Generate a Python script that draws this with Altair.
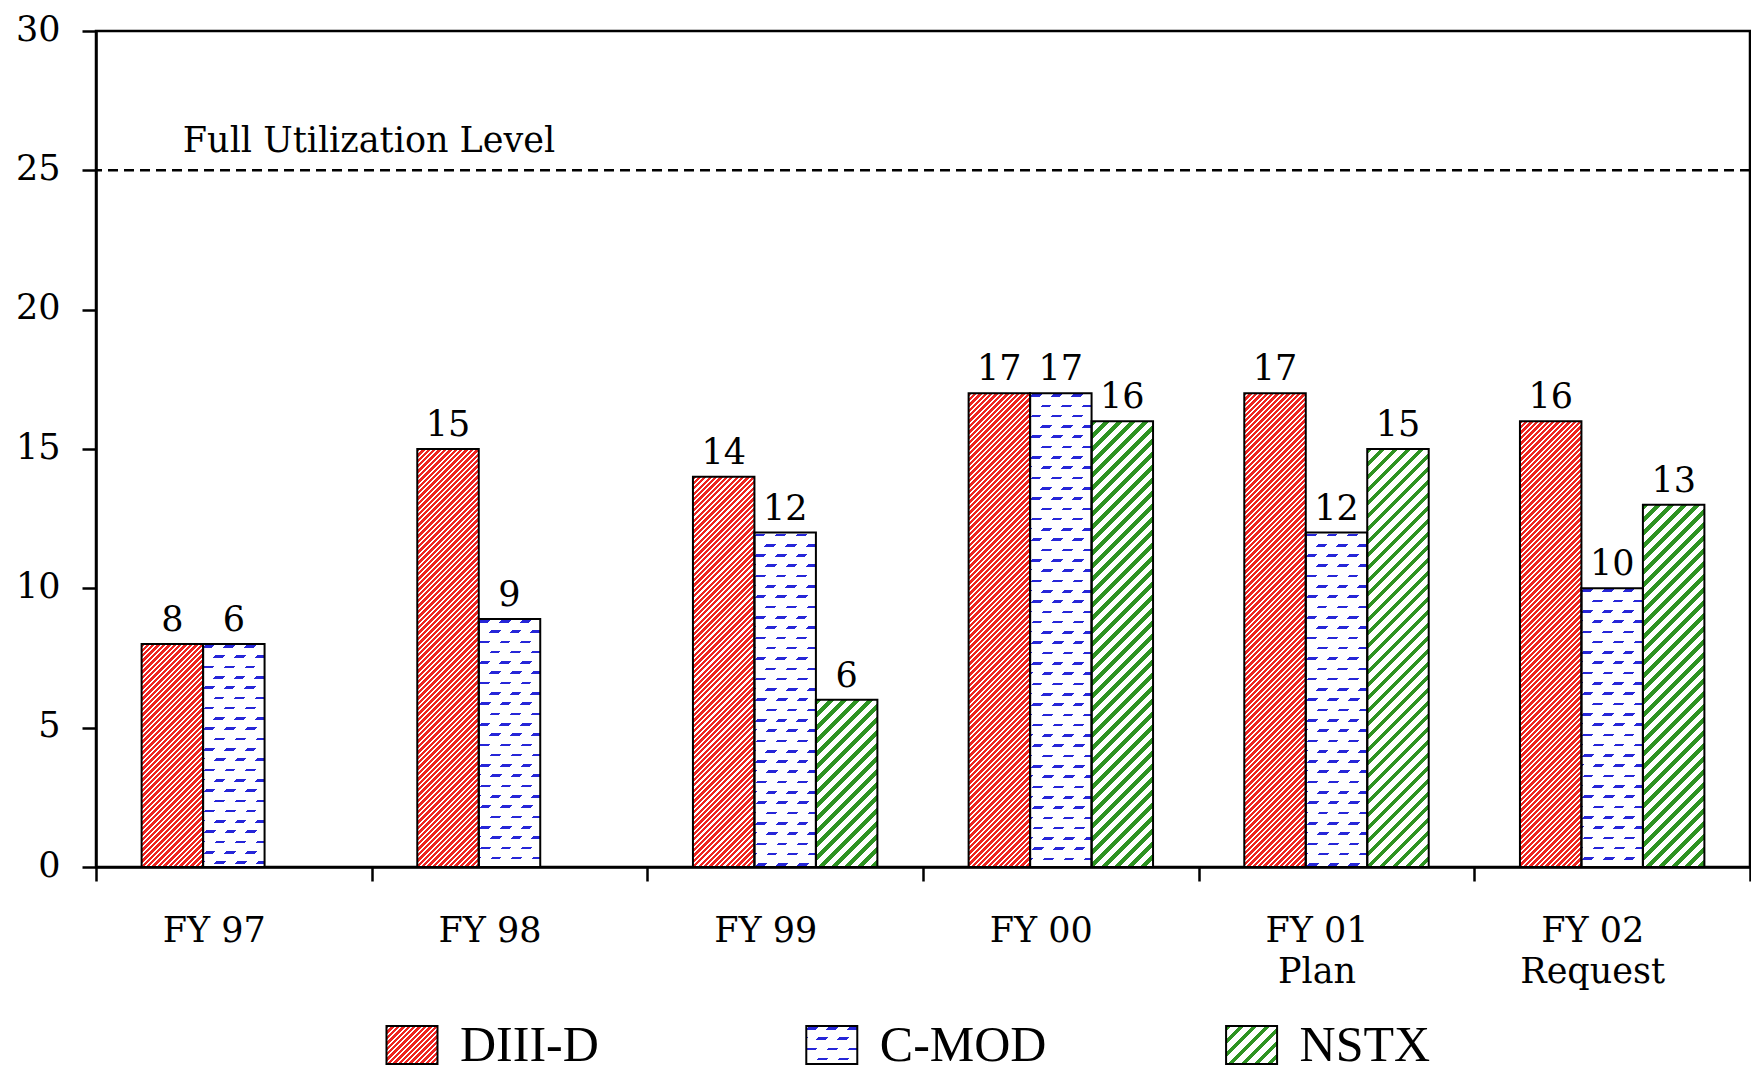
import math
import altair as alt

# ---------------- data ----------------
years = ["FY 97", "FY 98", "FY 99", "FY 00", "FY 01|Plan", "FY 02|Request"]
series = ["DIII-D", "C-MOD", "NSTX"]
diiid_values = [8, 15, 14, 17, 17, 16]
cmod_values = [8, 8.9, 12, 17, 12, 10]
nstx_values = [None, None, 6, 16, 15, 13]
diiid_labels = ["8", "15", "14", "17", "17", "16"]
cmod_labels = ["6", "9", "12", "17", "12", "10"]
nstx_labels = [None, None, "6", "16", "15", "13"]
full_utilization_level = 25
y_ticks = [0, 5, 10, 15, 20, 25, 30]

# ---------------- layout / style ----------------
PAD_L, PAD_T, PAD_R = 88, 23, 1
SVG_W, SVG_H = 1743, 1066
PLOT_W = SVG_W - PAD_L - PAD_R
PLOT_H = 836
Y_MAX = 30
OFFSET_PAD = 0.742
GROUP_W = PLOT_W / len(years)
BAR_W = GROUP_W / (3 + 2 * OFFSET_PAD)
FONT = "DejaVu Serif"

RED = "#ee2420"
BLUE = "#2626d8"
GREEN = "#2e9322"
WHITE = "#ffffff"
CLEAR = "rgba(255,255,255,0)"


def stripe_stops(length, period, frac, color, bg, phase=0.0):
    stops = []

    def add(o, c):
        stops.append({"offset": round(min(max(o, 0.0), 1.0), 5), "color": c})

    n = int(math.ceil(length / period)) + 2
    for k in range(-1, n):
        a = (k * period + phase) / length
        b = a + frac * period / length
        c = a + period / length
        if c <= 0 or a >= 1:
            continue
        add(a, color)
        add(b, color)
        add(b, bg)
        add(c, bg)
    return stops


def diag_gradient(w, h, period, frac, color, bg, phase=0.0):
    L = w + h
    s = L / (w * w + h * h)
    return {"gradient": "linear", "x1": 0, "y1": 0,
            "x2": round(w * s, 6), "y2": round(h * s, 6),
            "stops": stripe_stops(L, period, frac, color, bg, phase)}


def row_gradient(h, period, thick, color, bg, phase=1.0):
    return {"gradient": "linear", "x1": 0, "y1": 0, "x2": 0, "y2": 1,
            "stops": stripe_stops(h, period, thick / period, color, bg, phase)}


def fills_for(s, w, h):
    if s == "DIII-D":
        return diag_gradient(w, h, 5.4, 0.62, RED, WHITE), CLEAR
    if s == "C-MOD":
        return (row_gradient(h, 10.3, 2.6, BLUE, WHITE),
                diag_gradient(w, h, 20.7, 0.47, CLEAR, WHITE, phase=3))
    return diag_gradient(w, h, 13.0, 0.42, GREEN, WHITE), CLEAR


records = []
for i, yr in enumerate(years):
    for s, vals, labs in ((series[0], diiid_values, diiid_labels),
                          (series[1], cmod_values, cmod_labels),
                          (series[2], nstx_values, nstx_labels)):
        v = vals[i]
        if v is None:
            continue
        h = v * PLOT_H / Y_MAX
        f, m = fills_for(s, BAR_W, h)
        records.append({"year": yr, "series": s, "value": v,
                        "label": labs[i], "fill": f, "mask": m})

legend_records = []
for s in series:
    f, m = fills_for(s, 51, 38)
    legend_records.append({"series": s, "fill": f, "mask": m})

bar_data = alt.Data(values=records)
legend_data = alt.Data(values=legend_records)
level_data = alt.Data(values=[{"level": full_utilization_level,
                               "anchor": years[0],
                               "text": "Full Utilization Level"}])

x_enc = alt.X("year:N", sort=years,
              scale=alt.Scale(domain=years, paddingInner=0, paddingOuter=0),
              axis=alt.Axis(title=None, labelAngle=0, tickBand="extent",
                            labelExpr="split(datum.label, '|')",
                            labelBaseline="top", labelPadding=32, labelOffset=-20,
                            labelLineHeight=41.5))
xo_enc = alt.XOffset("series:N",
                     scale=alt.Scale(domain=series, paddingInner=0,
                                     paddingOuter=OFFSET_PAD))
y_enc = alt.Y("value:Q", scale=alt.Scale(domain=[0, Y_MAX], nice=False),
              axis=alt.Axis(title=None, values=y_ticks, labelPadding=22,
                            labelOffset=-2, labelFlush=False))

base = alt.Chart(bar_data).encode(x=x_enc, xOffset=xo_enc, y=y_enc)

bars_fill = base.mark_bar(strokeWidth=0).encode(fill=alt.Fill("fill:N", scale=None))
bars_mask = base.transform_filter(alt.datum.series == "C-MOD").mark_bar(
    strokeWidth=0).encode(fill=alt.Fill("mask:N", scale=None))
bars_outline = base.mark_bar(fillOpacity=0, stroke="black", strokeWidth=2)
bar_labels = base.mark_text(font=FONT, fontSize=35, baseline="alphabetic",
                            dy=-13, color="black").encode(text="label:N")

level_rule = alt.Chart(level_data).mark_rule(
    color="black", strokeWidth=2.5, strokeDash=[10, 6]).encode(y=alt.Y("level:Q"))
level_text = alt.Chart(level_data).mark_text(
    font=FONT, fontSize=35, align="left", baseline="alphabetic",
    dx=-51, dy=-18, color="black").encode(
    x=alt.X("anchor:N"), y=alt.Y("level:Q"), text="text:N")

LEG_Y = 1014
leg_x = alt.X("series:N", scale=alt.Scale(type="point", domain=series,
                                          padding=0.97, align=0.388), axis=None)
leg_base = alt.Chart(legend_data).encode(x=leg_x, y=alt.value(LEG_Y))
leg_fill = leg_base.mark_rect(width=51, height=38, strokeWidth=0).encode(
    fill=alt.Fill("fill:N", scale=None))
leg_mask = leg_base.mark_rect(width=51, height=38, strokeWidth=0).encode(
    fill=alt.Fill("mask:N", scale=None))
leg_outline = leg_base.mark_rect(width=51, height=38, fillOpacity=0,
                                 stroke="black", strokeWidth=2)
leg_text = leg_base.mark_text(font="Liberation Serif", fontSize=50, align="left",
                              baseline="middle", dx=48, dy=1,
                              color="black").encode(text="series:N")

main = alt.layer(bars_fill, bars_mask, bars_outline, bar_labels,
                 level_rule, level_text)
legend = alt.layer(leg_fill, leg_mask, leg_outline, leg_text)

chart = alt.layer(main, legend).resolve_scale(x="independent").properties(
    width=PLOT_W, height=PLOT_H,
    autosize=alt.AutoSizeParams(type="none"),
    padding={"left": PAD_L, "top": PAD_T, "right": PAD_R,
             "bottom": SVG_H - PAD_T - PLOT_H},
).configure_view(stroke="black", strokeWidth=2.5).configure_axis(
    domainColor="black", domainWidth=2.5, tickColor="black", tickWidth=2.5,
    tickSize=14, labelFont=FONT, labelFontSize=35, labelColor="black",
    grid=False)

chart.save("out.html", embed_options={"renderer": "svg", "actions": False})
